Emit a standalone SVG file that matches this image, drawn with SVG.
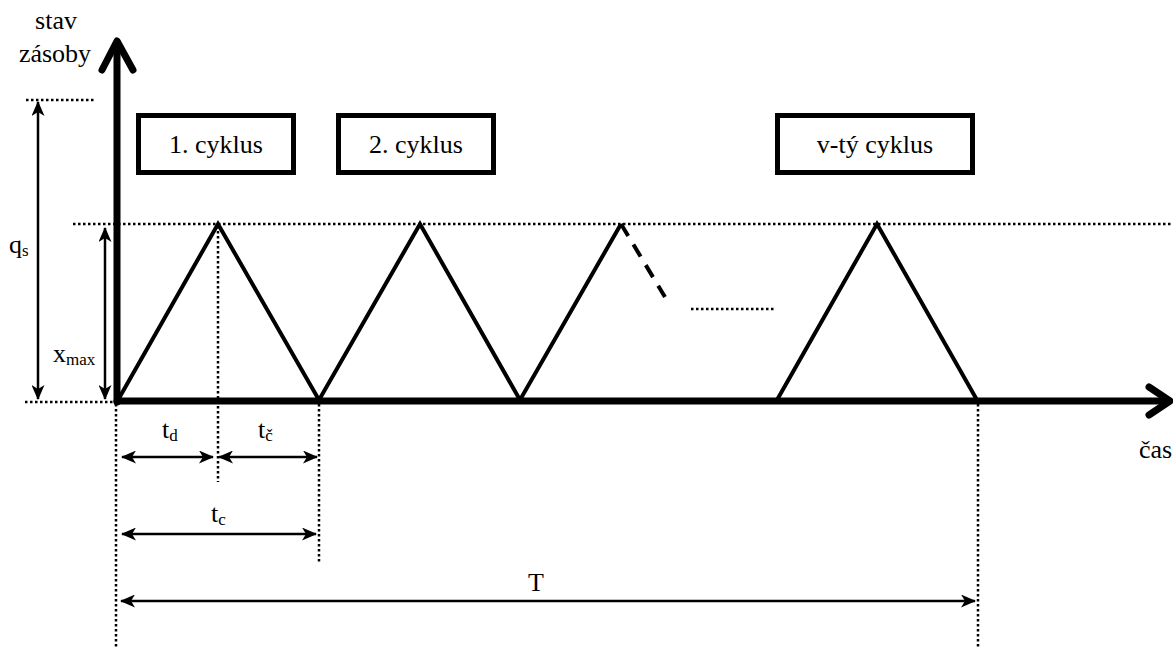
<svg xmlns="http://www.w3.org/2000/svg" width="1173" height="648" viewBox="0 0 1173 648" font-family="Liberation Serif, Times New Roman, serif">
  <style>
    text { font-family: "Liberation Serif", "Times New Roman", serif; fill: #000; font-size: 26px; }
    .sub { font-size: 17px; }
    .box { fill: #fff; stroke: #000; stroke-width: 5; }
    .dot { stroke: #000; stroke-width: 2.5; stroke-dasharray: 2.5 2.5; fill: none; }
    .dim { stroke: #000; stroke-width: 2.5; fill: none; marker-start: url(#ah); marker-end: url(#ah); }
    .axis { stroke: #000; stroke-width: 7; fill: none; stroke-linecap: round; stroke-linejoin: round; }
    .tri { stroke: #000; stroke-width: 4; fill: none; stroke-linejoin: miter; }
  </style>
  <defs>
    <marker id="ah" viewBox="0 0 15 13" refX="14" refY="6.5" markerWidth="15" markerHeight="13" markerUnits="userSpaceOnUse" orient="auto-start-reverse">
      <path d="M0,0 L15,6.5 L0,13 L4,6.5 z" fill="#000"/>
    </marker>
  </defs>

  <rect width="1173" height="648" fill="#fff"/>

  <!-- guide lines -->
  <g id="guides">
    <line class="dot" x1="26" y1="100" x2="95" y2="100"/>
    <line class="dot" x1="73" y1="224" x2="1173" y2="224"/>
    <line class="dot" x1="25" y1="402" x2="114" y2="402"/>
    <line class="dot" x1="116" y1="404" x2="116" y2="648"/>
    <line class="dot" x1="218" y1="226" x2="218" y2="482"/>
    <line class="dot" x1="319" y1="404" x2="319" y2="562"/>
    <line class="dot" x1="978" y1="404" x2="978" y2="648"/>
    <line class="dot" x1="691" y1="309" x2="775" y2="309"/>
  </g>

  <!-- stock level curve -->
  <g id="curve">
    <polyline class="tri" points="118,400 218,224 319,400 420,224 520,400 621,224"/>
    <line x1="621" y1="224" x2="665" y2="297" stroke="#000" stroke-width="4" stroke-dasharray="14 10"/>
    <polyline class="tri" points="777,400 877,224 977,400"/>
  </g>

  <!-- axes -->
  <g id="axes">
    <line class="axis" x1="117" y1="402" x2="117" y2="44"/>
    <polyline class="axis" points="102,70 117,41 133,70"/>
    <line class="axis" x1="117" y1="401" x2="1168" y2="401"/>
    <polyline class="axis" points="1149,387 1170,401 1149,415"/>
    <text x="56" y="29" text-anchor="middle">stav</text>
    <text x="55" y="62" text-anchor="middle">zásoby</text>
    <text x="1139" y="458">čas</text>
  </g>

  <!-- dimension arrows -->
  <g id="connectors">
    <line class="dim" x1="38" y1="102" x2="38" y2="399"/>
    <line class="dim" x1="105" y1="228" x2="105" y2="399"/>
    <line class="dim" x1="122" y1="457" x2="213" y2="457"/>
    <line class="dim" x1="219" y1="457" x2="317" y2="457"/>
    <line class="dim" x1="122" y1="534" x2="316" y2="534"/>
    <line class="dim" x1="121" y1="601" x2="975" y2="601"/>
  </g>

  <!-- dimension labels -->
  <g id="labels">
    <text x="9" y="253">q<tspan class="sub" dy="3">s</tspan></text>
    <text x="53" y="362">x<tspan class="sub" dy="3">max</tspan></text>
    <text x="162" y="438">t<tspan class="sub" dy="3">d</tspan></text>
    <text x="258" y="438">t<tspan class="sub" dy="3">č</tspan></text>
    <text x="211" y="522">t<tspan class="sub" dy="3">c</tspan></text>
    <text x="536" y="591" text-anchor="middle">T</text>
  </g>

  <!-- cycle boxes -->
  <g id="cycle1">
    <rect class="box" x="138.5" y="115.5" width="155" height="57"/>
    <text x="216" y="153" text-anchor="middle">1. cyklus</text>
  </g>
  <g id="cycle2">
    <rect class="box" x="338.5" y="115.5" width="155" height="57"/>
    <text x="416" y="153" text-anchor="middle">2. cyklus</text>
  </g>
  <g id="cyclev">
    <rect class="box" x="777.5" y="115.5" width="195" height="57"/>
    <text x="875" y="153" text-anchor="middle">v-tý cyklus</text>
  </g>
</svg>
